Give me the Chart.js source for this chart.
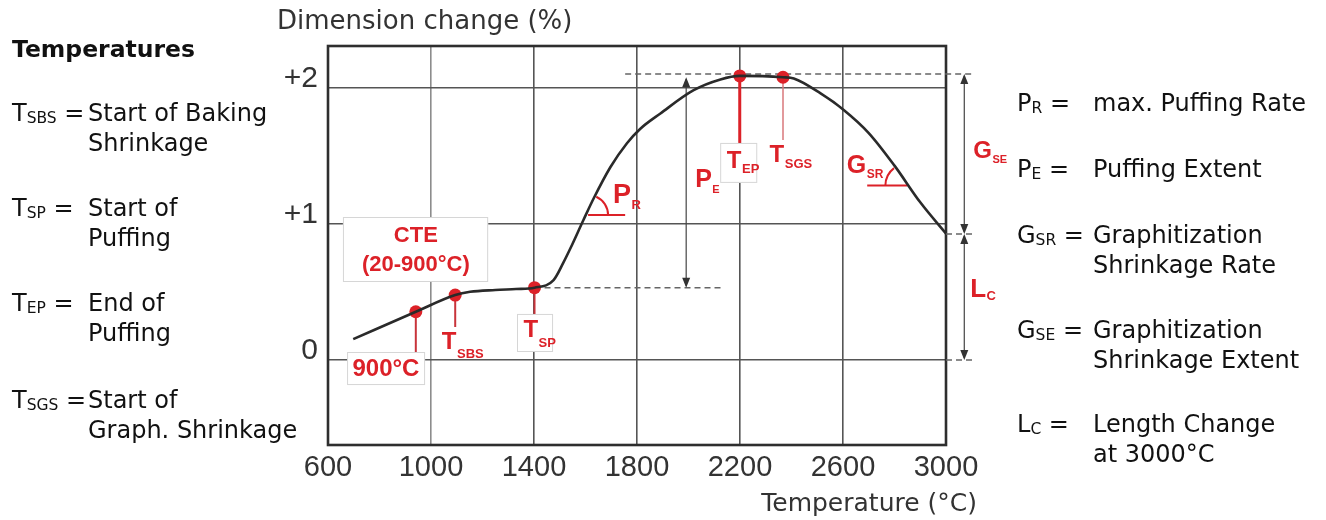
<!DOCTYPE html>
<html><head><meta charset="utf-8">
<script src="https://cdn.jsdelivr.net/npm/chart.js@4.4.0/dist/chart.umd.min.js"></script>
<style>
html,body{margin:0;padding:0;background:#fff;}
#wrap{position:relative;width:1326px;height:520px;overflow:hidden;background:#fff;}
canvas{position:absolute;left:0;top:0;}
.t{position:absolute;font-family:'DejaVu Sans',Verdana,sans-serif;font-size:24px;color:#111;white-space:nowrap;line-height:30px;}
.t .s{font-size:15.5px;position:relative;top:2px;}
.h{font-weight:bold;font-size:23.5px;}
</style></head><body>
<div id="wrap"><canvas id="c" width="1326" height="520"></canvas></div>
<script>
// ---------------- data ----------------
const temperature = [698, 941, 1094, 1152, 1250, 1330, 1402, 1476, 1515, 1541, 1592, 1632, 1697, 1761, 1812, 1891, 2020, 2124, 2199, 2367, 2409, 2513, 2604, 2700, 2800, 2900, 3000];
const dimensionChange = [0.154, 0.355, 0.478, 0.502, 0.515, 0.522, 0.532, 0.588, 0.72, 0.82, 1.03, 1.19, 1.42, 1.595, 1.70, 1.814, 1.985, 2.064, 2.09, 2.08, 2.071, 1.961, 1.838, 1.67, 1.43, 1.16, 0.93];
const keyTemps = [941, 1094, 1402, 2199, 2367];
const keyDims = [0.355, 0.478, 0.532, 2.09, 2.08];
const stemEnds = [0.059, 0.243, 0.339, 1.597, 1.619];
const xTicks = [600, 1000, 1400, 1800, 2200, 2600, 3000];
const yTicks = [0, 1, 2];
const yTickLabels = ['0', '+1', '+2'];
const xTitle = 'Temperature (°C)';
const yTitle = 'Dimension change (%)';
const peakLevel = 2.104;      // max. dimension change (dashed line)
const endLevel = 0.927;       // length change at 3000°C

const leftTitle = 'Temperatures';
const leftRows = [
  {sym: 'T', sub: 'SBS', eq: '=', lines: ['Start of Baking', 'Shrinkage']},
  {sym: 'T', sub: 'SP', eq: '=', lines: ['Start of', 'Puffing']},
  {sym: 'T', sub: 'EP', eq: '=', lines: ['End of', 'Puffing']},
  {sym: 'T', sub: 'SGS', eq: '=', lines: ['Start of', 'Graph. Shrinkage']}
];
const rightRows = [
  {sym: 'P', sub: 'R', eq: '=', lines: ['max. Puffing Rate']},
  {sym: 'P', sub: 'E', eq: '=', lines: ['Puffing Extent']},
  {sym: 'G', sub: 'SR', eq: '=', lines: ['Graphitization', 'Shrinkage Rate']},
  {sym: 'G', sub: 'SE', eq: '=', lines: ['Graphitization', 'Shrinkage Extent']},
  {sym: 'L', sub: 'C', eq: '=', lines: ['Length Change', 'at 3000°C']}
];

// ---------------- side texts (HTML) ----------------
const wrap = document.getElementById('wrap');
function addDiv(html, left, top, cls) {
  const d = document.createElement('div');
  d.className = 't' + (cls ? ' ' + cls : '');
  d.style.left = left + 'px'; d.style.top = top + 'px';
  d.innerHTML = html; wrap.appendChild(d);
}
addDiv(leftTitle, 12, 34, 'h');
const leftTops = [98, 193, 288, 385];
leftRows.forEach((r, i) => {
  addDiv(r.sym + '<span class="s">' + r.sub + '</span> ' + r.eq, 12, leftTops[i]);
  addDiv(r.lines.join('<br>'), 88, leftTops[i]);
});
const rightTops = [88, 154, 220, 315, 409];
rightRows.forEach((r, i) => {
  addDiv(r.sym + '<span class="s">' + r.sub + '</span> ' + r.eq, 1017, rightTops[i]);
  addDiv(r.lines.join('<br>'), 1093, rightTops[i]);
});

// ---------------- annotation plugin ----------------
const RED = '#dc2128';
const INK = '#2e2e2e';
const annot = {
  dashed: [
    {v: peakLevel, t1: 1754, t2: 3106},
    {v: keyDims[2], t1: keyTemps[2], t2: 2135},
    {v: endLevel, t1: 3000, t2: 3115},
    {v: 0, t1: 3000, t2: 3115}
  ],
  arrows: [
    {t: 1991, v1: keyDims[2], v2: 2.08},
    {t: 3071, v1: endLevel, v2: peakLevel},
    {t: 3071, v1: 0, v2: endLevel}
  ],
  stems: [
    {w: 2, c: '#c8343b'}, {w: 2, c: '#c8343b'}, {w: 2, c: '#c8343b'}, {w: 3, c: RED}, {w: 1.5, c: '#d9777b'}
  ],
  boxes: [
    {t1: 674, t2: 977, v1: 0.059, v2: -0.184},
    {t1: 658, t2: 1222, v1: 1.052, v2: 0.574},
    {t1: 1334, t2: 1474, v1: 0.339, v2: 0.059},
    {t1: 2123, t2: 2267, v1: 1.597, v2: 1.303}
  ],
  texts: [
    {s: '900°C', t: 825, v: -0.066, f: 24},
    {s: 'CTE', t: 941, v: 0.913, f: 22},
    {s: '(20-900°C)', t: 941, v: 0.699, f: 22}
  ],
  subLabels: [
    {m: 'T', s: 'SBS', t: 1042, v: 0.079, f: 24, fs: 13, dy: 9},
    {m: 'T', s: 'SP', t: 1359, v: 0.171, f: 24, fs: 13, dy: 10},
    {m: 'T', s: 'EP', t: 2149, v: 1.413, f: 24, fs: 13, dy: 5},
    {m: 'T', s: 'SGS', t: 2315, v: 1.459, f: 24, fs: 13, dy: 6},
    {m: 'P', s: 'R', t: 1707, v: 1.155, f: 27, fs: 13, dy: 6},
    {m: 'P', s: 'E', t: 2026, v: 1.273, f: 25, fs: 11, dy: 6},
    {m: 'G', s: 'SR', t: 2615, v: 1.374, f: 25, fs: 12, dy: 5},
    {m: 'G', s: 'SE', t: 3106, v: 1.486, f: 24, fs: 11, dy: 5},
    {m: 'L', s: 'C', t: 3094, v: 0.466, f: 26, fs: 13, dy: 3}
  ],
  angles: [
    {t: 1610, v: 1.067, tEnd: 1754, r: 20, a1: -1.15, a2: 0},
    {t: 2850, v: 1.283, tEnd: 2694, r: 22, a1: Math.PI, a2: Math.PI + 0.92}
  ]
};

const annotPlugin = {
  id: 'annot',
  beforeDatasetsDraw(chart) {
    const ctx = chart.ctx, xs = chart.scales.x, ys = chart.scales.y, a = chart.chartArea;
    const X = t => xs.getPixelForValue(t), Y = v => ys.getPixelForValue(v);
    ctx.save();
    // frame
    ctx.strokeStyle = INK; ctx.lineWidth = 2.6;
    ctx.strokeRect(a.left, a.top, a.right - a.left, a.bottom - a.top);
    // dashed guide lines
    ctx.strokeStyle = '#666'; ctx.lineWidth = 1.5; ctx.setLineDash([6, 4]);
    annot.dashed.forEach(d => { ctx.beginPath(); ctx.moveTo(X(d.t1), Y(d.v)); ctx.lineTo(X(d.t2), Y(d.v)); ctx.stroke(); });
    ctx.setLineDash([]);
    // double arrows
    ctx.strokeStyle = '#444'; ctx.fillStyle = '#333'; ctx.lineWidth = 1.2;
    annot.arrows.forEach(d => {
      const x = X(d.t), yb = Y(d.v1), yt = Y(d.v2);
      ctx.beginPath(); ctx.moveTo(x, yb - 2); ctx.lineTo(x, yt + 2); ctx.stroke();
      ctx.beginPath(); ctx.moveTo(x, yt); ctx.lineTo(x - 4, yt + 10); ctx.lineTo(x + 4, yt + 10); ctx.closePath(); ctx.fill();
      ctx.beginPath(); ctx.moveTo(x, yb); ctx.lineTo(x - 4, yb - 10); ctx.lineTo(x + 4, yb - 10); ctx.closePath(); ctx.fill();
    });
    // label boxes
    annot.boxes.forEach(b => {
      const x1 = X(b.t1), x2 = X(b.t2), y1 = Y(b.v1), y2 = Y(b.v2);
      ctx.fillStyle = '#fff'; ctx.fillRect(x1, y1, x2 - x1, y2 - y1);
      ctx.strokeStyle = '#d6d6d6'; ctx.lineWidth = 1; ctx.strokeRect(x1 + 0.5, y1 + 0.5, x2 - x1 - 1, y2 - y1 - 1);
    });
    // stems
    keyTemps.forEach((t, i) => {
      const s = annot.stems[i];
      ctx.strokeStyle = s.c; ctx.lineWidth = s.w;
      ctx.beginPath(); ctx.moveTo(X(t), Y(keyDims[i])); ctx.lineTo(X(t), Y(stemEnds[i])); ctx.stroke();
    });
    // angle marks
    ctx.strokeStyle = RED; ctx.lineWidth = 2;
    annot.angles.forEach(g => {
      const cx = X(g.t), cy = Y(g.v);
      ctx.beginPath(); ctx.moveTo(cx, cy); ctx.lineTo(X(g.tEnd), cy); ctx.stroke();
      ctx.beginPath(); ctx.arc(cx, cy, g.r, g.a1, g.a2); ctx.stroke();
    });
    ctx.restore();
  },
  afterDatasetsDraw(chart) {
    const ctx = chart.ctx, xs = chart.scales.x, ys = chart.scales.y, a = chart.chartArea;
    const X = t => xs.getPixelForValue(t), Y = v => ys.getPixelForValue(v);
    ctx.save();
    ctx.fillStyle = RED;
    ctx.textAlign = 'center'; ctx.textBaseline = 'middle';
    annot.texts.forEach(tx => {
      ctx.font = 'bold ' + tx.f + 'px "Liberation Sans", Arial, sans-serif';
      ctx.fillText(tx.s, X(tx.t), Y(tx.v));
    });
    ctx.textAlign = 'left'; ctx.textBaseline = 'alphabetic';
    annot.subLabels.forEach(l => {
      const x = X(l.t), y = Y(l.v);
      ctx.font = 'bold ' + l.f + 'px "Liberation Sans", Arial, sans-serif';
      ctx.fillText(l.m, x, y);
      const w = ctx.measureText(l.m).width;
      ctx.font = 'bold ' + l.fs + 'px "Liberation Sans", Arial, sans-serif';
      ctx.fillText(l.s, x + w + 0.5, y + l.dy);
    });
    // axis titles
    ctx.fillStyle = '#333';
    ctx.font = '26px "DejaVu Sans", sans-serif';
    ctx.textAlign = 'left';
    ctx.fillText(yTitle, a.left - 51, 29);
    ctx.font = '25px "DejaVu Sans", sans-serif';
    ctx.textAlign = 'right';
    ctx.fillText(xTitle, a.right + 31, 511);
    ctx.restore();
  }
};

new Chart(document.getElementById('c'), {
  type: 'scatter',
  data: {
    datasets: [
      {
        label: 'Dimension change',
        data: temperature.map((t, i) => ({x: t, y: dimensionChange[i]})),
        showLine: true, borderColor: '#2a2a2a', borderWidth: 2.6,
        pointRadius: 0, cubicInterpolationMode: 'monotone', fill: false
      },
      {
        label: 'Characteristic temperatures',
        data: keyTemps.map((t, i) => ({x: t, y: keyDims[i]})),
        showLine: false, pointRadius: 6.5, pointBackgroundColor: RED, pointBorderWidth: 0,
        pointHoverRadius: 6.5
      }
    ]
  },
  options: {
    responsive: false, animation: false, events: [],
    layout: {padding: {left: 0, right: 380, top: 46, bottom: 0}},
    plugins: {legend: {display: false}, tooltip: {enabled: false}},
    scales: {
      x: {
        type: 'linear', min: 600, max: 3000,
        afterBuildTicks: s => { s.ticks = xTicks.map(v => ({value: v})); },
        afterFit: s => { s.height = 75; },
        border: {display: false},
        grid: {
          drawTicks: false, lineWidth: 1.6,
          color: c => (c.tick.value === 600 || c.tick.value === 3000) ? 'rgba(0,0,0,0)' : (c.tick.value === 1000 ? '#8c8c8c' : '#555')
        },
        ticks: {
          autoSkip: false, maxRotation: 0, padding: 6, color: '#333',
          font: {family: '"Liberation Sans", Arial, sans-serif', size: 29},
          callback: v => String(v)
        }
      },
      y: {
        type: 'linear', min: -0.625, max: 2.31,
        afterBuildTicks: s => { s.ticks = yTicks.map(v => ({value: v})); },
        afterFit: s => { s.width = 328; },
        border: {display: false},
        grid: {drawTicks: false, lineWidth: 1.6, color: '#555'},
        ticks: {
          padding: 10, labelOffset: -9, color: '#333',
          font: {family: '"Liberation Sans", Arial, sans-serif', size: 30},
          callback: v => yTickLabels[yTicks.indexOf(v)]
        }
      }
    }
  },
  plugins: [annotPlugin]
});
</script>
</body></html>
